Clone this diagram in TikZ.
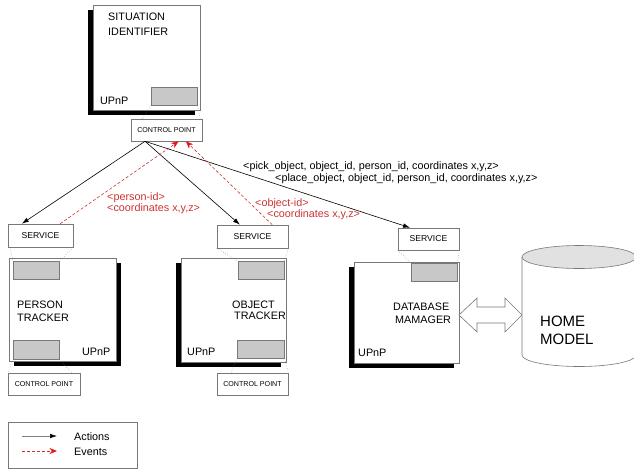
\documentclass[tikz,border=0pt]{standalone}
\usepackage{fontspec}
\setmainfont{Liberation Sans}
\usetikzlibrary{arrows.meta,calc}
\definecolor{evred}{RGB}{204,51,51}
\definecolor{arrred}{RGB}{230,20,20}
\definecolor{boxgray}{RGB}{120,120,120}
\definecolor{fillgray}{RGB}{200,200,200}
\definecolor{topgray}{RGB}{225,225,225}
\begin{document}
\begin{tikzpicture}[x=1pt,y=-1pt,
  frame/.style={draw=boxgray,line width=0.6pt,fill=white,inner sep=0pt,anchor=north west},
  port/.style={draw=boxgray,fill=fillgray,line width=0.6pt,inner sep=0pt,anchor=north west},
  svcbox/.style={draw=boxgray,fill=white,line width=0.6pt,inner sep=0pt,font=\fontsize{8.6}{10}\selectfont},
  cpbox/.style={draw=boxgray,fill=white,line width=0.6pt,inner sep=0pt,font=\fontsize{7.1}{8}\selectfont},
  lbl/.style={font=\fontsize{10.8}{12}\selectfont,inner sep=0pt,anchor=base west},
  redlbl/.style={lbl,text=evred},
  biglbl/.style={font=\fontsize{15}{18}\selectfont,inner sep=0pt,anchor=base west},
  dotline/.style={draw=boxgray,dotted,line width=0.5pt},
  action/.style={draw=black,line width=0.6pt,-{Latex[length=7pt,width=4.5pt,color=black]}},
  event/.style={draw=evred,dash pattern=on 3pt off 2pt,line width=0.6pt,-{Stealth[length=7.5pt,width=6pt,color=arrred]}},
]
\useasboundingbox (0,0) rectangle (634,469);

% ---------- Situation identifier ----------
\fill[black] (88,10) rectangle (195,115);
\node[frame,minimum width=107,minimum height=105] (si) at (93,5) {};
\node[port,minimum width=46,minimum height=18] (siport) at (151,87) {};
\node[lbl] at (108,20.5) {SITUATION};
\node[lbl] at (108,35.3) {IDENTIFIER};
\node[lbl] at (100,104) {UPnP};
\node[cpbox,minimum width=71,minimum height=22] (sicp) at (166.5,130) {CONTROL POINT};
\draw[dotline] (siport.south west) -- ($(sicp.north west)!0.16!(sicp.north east)$);
\draw[dotline] (siport.south east) -- ($(sicp.north west)!0.97!(sicp.north east)$);

% ---------- Person tracker ----------
\node[svcbox,minimum width=65,minimum height=23] (psvc) at (40.5,235.5) {SERVICE};
\fill[black] (14,263) rectangle (121,366);
\node[frame,minimum width=107,minimum height=103] (pt) at (9,258) {};
\node[port,minimum width=46,minimum height=18] (ptop) at (13,261) {};
\node[port,minimum width=46,minimum height=19] (pbot) at (13,340) {};
\node[lbl] at (17,308.3) {PERSON};
\node[lbl] at (17,321.7) {TRACKER};
\node[lbl] at (82,355.5) {UPnP};
\node[cpbox,minimum width=72,minimum height=22] (pcp) at (44,384) {CONTROL POINT};
\draw[dotline] ($(psvc.south west)!0.03!(psvc.south east)$) -- (ptop.north west);
\draw[dotline] (psvc.south east) -- (ptop.north east);
\draw[dotline] (pbot.south west) -- (pcp.north west);
\draw[dotline] (pbot.south east) -- ($(pcp.north west)!0.88!(pcp.north east)$);

% ---------- Object tracker ----------
\node[svcbox,minimum width=71,minimum height=23] (osvc) at (252.5,236.5) {SERVICE};
\fill[black] (176,263) rectangle (281,367);
\node[frame,minimum width=105,minimum height=104] (ot) at (181,258) {};
\node[port,minimum width=46,minimum height=18] (otop) at (238,261) {};
\node[port,minimum width=47,minimum height=18] (obot) at (237,340) {};
\node[lbl] at (232,308) {OBJECT};
\node[lbl] at (234,319.5) {TRACKER};
\node[lbl] at (187,355.5) {UPnP};
\node[cpbox,minimum width=71,minimum height=22] (ocp) at (252.5,384) {CONTROL POINT};
\draw[dotline] (osvc.south west) -- (otop.north west);
\draw[dotline] (osvc.south east) -- (otop.north east);
\draw[dotline] (obot.south west) -- ($(ocp.north west)!0.2!(ocp.north east)$);
\draw[dotline] (obot.south east) -- (ocp.north east);

% ---------- Database manager ----------
\node[svcbox,minimum width=61,minimum height=22] (dsvc) at (428.5,239) {SERVICE};
\fill[black] (349,267) rectangle (454,368);
\node[frame,minimum width=105,minimum height=101] (db) at (354,262) {};
\node[port,minimum width=46,minimum height=18] (dtop) at (411,263) {};
\node[lbl] at (393,310) {DATABASE};
\node[lbl] at (395,323) {MAMAGER};
\node[lbl] at (358,356) {UPnP};
\draw[dotline] (dsvc.south west) -- (dtop.north west);
\draw[dotline] (dsvc.south east) -- (dtop.north east);

% ---------- Double arrow ----------
\draw[draw=boxgray,fill=white,line width=0.6pt,line join=miter]
  (459,315) -- (477,298) -- (477,307) -- (505,307) -- (505,298) -- (522,315)
  -- (505,332) -- (505,323) -- (477,323) -- (477,332) -- cycle;

% ---------- Home model cylinder ----------
\begin{scope}
\clip (0,0) rectangle (634,469);
\draw[draw=boxgray,fill=white,line width=0.6pt]
  (522,257) -- (522,355) arc[start angle=180,end angle=360,x radius=57,y radius=-11.5]
  -- (636,257);
\draw[draw=boxgray,fill=topgray,line width=0.6pt] (579,257) ellipse[x radius=57,y radius=11.5];
\end{scope}
\node[biglbl] at (540,326.5) {HOME};
\node[biglbl] at (540,344.5) {MODEL};

% ---------- Actions ----------
\coordinate (src) at ($(sicp.south west)!0.2!(sicp.south east)$);
\draw[action] (src) -- ($(psvc.north west)!0.215!(psvc.north east)$);
\draw[action] (src) -- ($(osvc.north west)!0.324!(osvc.north east)$);
\draw[action] (src) -- ($(dsvc.north west)!0.2!(dsvc.north east)$);

% ---------- Events ----------
\draw[event] ($(psvc.north west)!0.8!(psvc.north east)$) -- ($(sicp.south west)!0.67!(sicp.south east)$);
\draw[event] ($(osvc.north west)!0.775!(osvc.north east)$) -- ($(sicp.south west)!0.77!(sicp.south east)$);

% ---------- Labels ----------
\node[redlbl] at (107,200.5) {<person-id>};
\node[redlbl] at (107,211) {<coordinates x,y,z>};
\node[redlbl] at (255,206.5) {<object-id>};
\node[redlbl] at (267,217) {<coordinates x,y,z>};
\node[lbl] at (243,169.5) {<pick\_object, object\_id, person\_id, coordinates x,y,z>};
\node[lbl] at (275,181.5) {<place\_object, object\_id, person\_id, coordinates x,y,z>};

% ---------- Legend ----------
\node[draw=boxgray,line width=0.6pt,fill=white,minimum width=129,minimum height=46,inner sep=0pt,anchor=north west] (legend) at (8,422) {};
\coordinate (la1) at (22,436);
\coordinate (la2) at (57,436);
\coordinate (le1) at (22,451);
\coordinate (le2) at (57,451);
\draw[action,draw=gray] (la1) -- (la2);
\draw[event] (le1) -- (le2);
\node[lbl] at (74,440) {Actions};
\node[lbl] at (74,455) {Events};
\end{tikzpicture}
\end{document}
